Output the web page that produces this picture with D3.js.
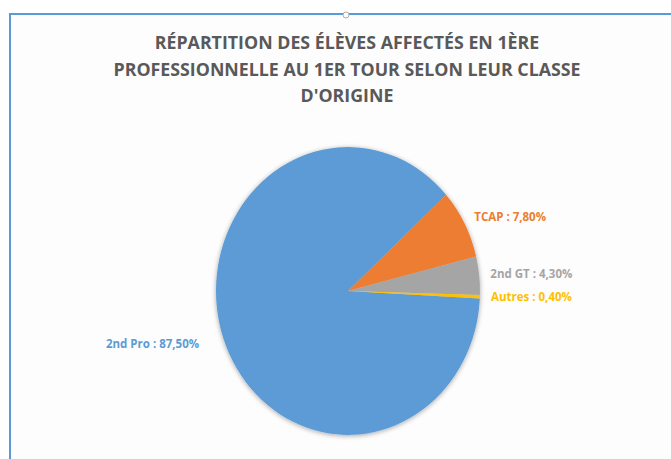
<!DOCTYPE html>
<html>
<head>
<meta charset="utf-8">
<script src="https://cdn.jsdelivr.net/npm/d3@7"></script>
<style>
  html, body { margin: 0; padding: 0; background: #fff; }
  svg { display: block; }
</style>
</head>
<body>
<svg id="chart"></svg>
<script>
// data
const titleLines = [
    "RÉPARTITION DES ÉLÈVES AFFECTÉS EN 1ÈRE",
    "PROFESSIONNELLE AU 1ER TOUR SELON LEUR CLASSE",
    "D'ORIGINE"
];
const categories = ["2nd Pro", "TCAP", "2nd GT", "Autres"];
const values = [87.5, 7.8, 4.3, 0.4];
const colors = ["#5b9bd5", "#ed7d31", "#a5a5a5", "#ffc000"];

const width = 671, height = 459;
const cx = 348, cy = 291;
const radius = 132;
const yStretch = 1.09;   // picture is slightly stretched vertically

const svg = d3.select("#chart")
      .attr("width", width)
      .attr("height", height);

const defs = svg.append("defs");
const shadow = defs.append("filter")
      .attr("id", "shadow")
      .attr("x", "-20%").attr("y", "-20%")
      .attr("width", "140%").attr("height", "140%");
shadow.append("feGaussianBlur")
    .attr("in", "SourceAlpha")
    .attr("stdDeviation", 2.5);
shadow.append("feOffset").attr("dx", 0).attr("dy", 1).attr("result", "blur");
shadow.append("feComponentTransfer")
    .append("feFuncA").attr("type", "linear").attr("slope", 0.35);
const merge = shadow.append("feMerge");
merge.append("feMergeNode");
merge.append("feMergeNode").attr("in", "SourceGraphic");

// chart frame (part of the selected chart area)
svg.append("rect")
    .attr("x", 10).attr("y", 14)
    .attr("width", width).attr("height", height)
    .attr("fill", "#fdfdfd")
    .attr("stroke", "#5b9bd5")
    .attr("stroke-width", 2);

svg.append("circle")
    .attr("cx", 346).attr("cy", 15)
    .attr("r", 3)
    .attr("fill", "#fff")
    .attr("stroke", "#9a9a9a")
    .attr("stroke-width", 0.8);

svg.append("g")
    .selectAll("text")
    .data(titleLines)
    .join("text")
    .attr("x", 347)
    .attr("y", (d, i) => 49 + i * 26.5)
    .attr("text-anchor", "middle")
    .style("font-family", "'Open Sans', sans-serif")
    .style("font-weight", "bold")
    .style("font-size", "17.8px")
    .style("fill", "#595959")
    .text(d => d);

const data = categories.map((c, i) => ({ name: c, value: values[i], color: colors[i] }));

// first slice (2nd Pro) starts just below 3 o'clock
const startAngle = 93 * Math.PI / 180;
const pie = d3.pie()
      .sort(null)
      .value(d => d.value)
      .startAngle(startAngle)
      .endAngle(startAngle + 2 * Math.PI);

const arc = d3.arc()
      .innerRadius(0)
      .outerRadius(radius);

const arcs = pie(data);

const pieG = svg.append("g")
      .attr("transform", `translate(${cx},${cy}) scale(1,${yStretch})`)
      .attr("filter", "url(#shadow)");

pieG.selectAll("path")
    .data(arcs)
    .join("path")
    .attr("d", arc)
    .attr("fill", d => d.data.color);

const labelR = radius * 1.1;
const midAngle = d => (d.startAngle + d.endAngle) / 2;

svg.append("g")
    .selectAll("text")
    .data(arcs)
    .join("text")
    .attr("x", d => cx + labelR * Math.sin(midAngle(d)) + (Math.sin(midAngle(d)) < 0 ? -12 : -2))
    .attr("y", d => cy - labelR * Math.cos(midAngle(d)) * yStretch + 4)
    .attr("text-anchor", d => Math.sin(midAngle(d)) < 0 ? "end" : "start")
    .style("font-family", "'Open Sans', sans-serif")
    .style("font-weight", "bold")
    .style("font-size", "11.5px")
    .style("fill", d => d.data.color)
    .text(d => d.data.name + " : " + d3.format(".2f")(d.data.value).replace(".", ",") + "%");
</script>
</body>
</html>
